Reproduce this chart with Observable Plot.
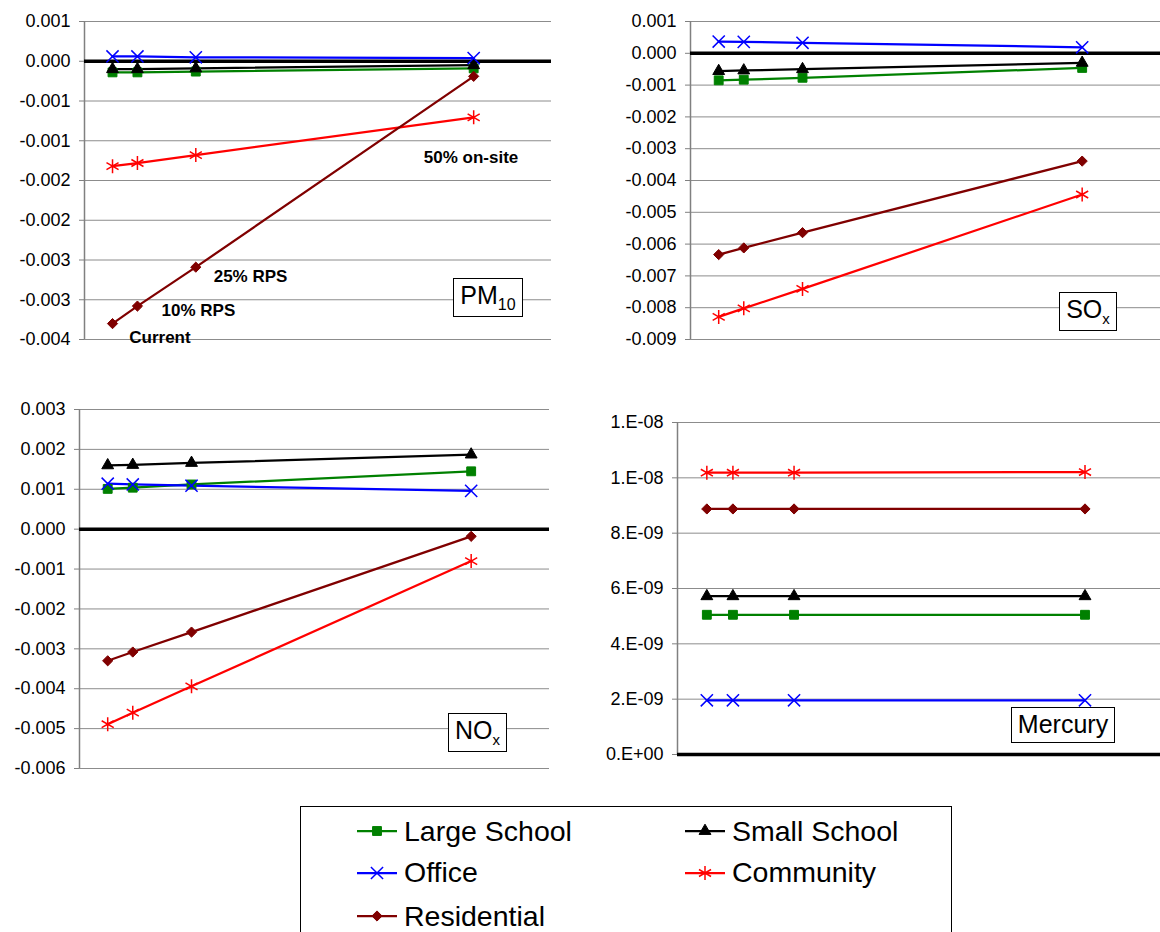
<!DOCTYPE html>
<html>
<head>
<meta charset="utf-8">
<script src="https://cdn.jsdelivr.net/npm/d3@7"></script>
<script src="https://cdn.jsdelivr.net/npm/@observablehq/plot@0.6"></script>
<style>
  body { margin: 0; background: #fff; font-family: "Liberation Sans", Arial, sans-serif; }
  #page { position: relative; width: 1160px; height: 932px; overflow: hidden; background: #fff; }
  .panel { position: absolute; }
  .panel svg { overflow: visible; }
  .tag { position: absolute; box-sizing: border-box; border: 1px solid #000; background: #fff;
         font-size: 25px; line-height: 1; color: #000; display: flex; align-items: center;
         justify-content: center; white-space: nowrap; }
  .tag sub { font-size: 16px; vertical-align: -6px; line-height: 0; }
  #legend { position: absolute; left: 300px; top: 806px; width: 652px; height: 140px;
            box-sizing: border-box; border: 1px solid #000; background: #fff; }
  .item { position: absolute; height: 30px; display: flex; align-items: center;
          font-size: 28.5px; line-height: 1; color: #000; white-space: nowrap; }
  .item svg { margin-right: 7px; }
</style>
</head>
<body>
<div id="page"></div>
<script>
// ---------- data ----------
const scenarios = ["Current", "10% RPS", "25% RPS", "50% on-site"];
const scenarioX = [3.6, 6.8, 14.3, 50];

const seriesNames = ["Large School", "Small School", "Office", "Community", "Residential"];
const seriesColors = ["#008000", "#000000", "#0000ff", "#ff0000", "#800000"];
const seriesSymbols = ["square", "triangle", "times", "asterisk", "diamond2"];

// values per series in seriesNames order, per scenario
const pm10Values = [
  [-0.00014, -0.00014, -0.00013, -0.00009],
  [-0.00010, -0.00010, -0.00009, -0.00005],
  [0.00006, 0.00006, 0.00005, 0.00004],
  [-0.00132, -0.00128, -0.00118, -0.000705],
  [-0.00330, -0.00308, -0.00259, -0.00019]
];
const soxValues = [
  [-0.00085, -0.00083, -0.00077, -0.00046],
  [-0.00056, -0.00054, -0.00050, -0.00030],
  [0.00037, 0.00036, 0.00033, 0.00019],
  [-0.00829, -0.00802, -0.00741, -0.00444],
  [-0.00633, -0.00612, -0.00564, -0.00339]
];
const noxValues = [
  [0.00101, 0.00104, 0.00112, 0.00145],
  [0.00160, 0.00161, 0.00166, 0.00187],
  [0.00114, 0.00112, 0.00109, 0.00096],
  [-0.00489, -0.00460, -0.00394, -0.00080],
  [-0.00330, -0.00308, -0.00258, -0.00018]
];
const mercuryValues = [
  [5.05e-9, 5.05e-9, 5.05e-9, 5.05e-9],
  [5.72e-9, 5.72e-9, 5.72e-9, 5.72e-9],
  [1.96e-9, 1.96e-9, 1.96e-9, 1.96e-9],
  [1.0185e-8, 1.0185e-8, 1.0185e-8, 1.021e-8],
  [8.875e-9, 8.875e-9, 8.875e-9, 8.875e-9]
];

const pm10Ticks = [0.0005, 0, -0.0005, -0.001, -0.0015, -0.002, -0.0025, -0.003, -0.0035];
const pm10TickLabels = ["0.001", "0.000", "-0.001", "-0.001", "-0.002", "-0.002", "-0.003", "-0.003", "-0.004"];
const soxTicks = [0.001, 0, -0.001, -0.002, -0.003, -0.004, -0.005, -0.006, -0.007, -0.008, -0.009];
const soxTickLabels = ["0.001", "0.000", "-0.001", "-0.002", "-0.003", "-0.004", "-0.005", "-0.006", "-0.007", "-0.008", "-0.009"];
const noxTicks = [0.003, 0.002, 0.001, 0, -0.001, -0.002, -0.003, -0.004, -0.005, -0.006];
const noxTickLabels = ["0.003", "0.002", "0.001", "0.000", "-0.001", "-0.002", "-0.003", "-0.004", "-0.005", "-0.006"];
const mercuryTicks = [1.2e-8, 1e-8, 8e-9, 6e-9, 4e-9, 2e-9, 0];
const mercuryTickLabels = ["1.E-08", "1.E-08", "8.E-09", "6.E-09", "4.E-09", "2.E-09", "0.E+00"];

// scenario annotations on the PM10 panel (anchored in data units)
const pm10NoteText = ["Current", "10% RPS", "25% RPS", "50% on-site"];
const pm10NoteX = [5.75, 9.9, 16.6, 43.6];
const pm10NoteY = [-0.00348, -0.00313, -0.00271, -0.00121];

// ---------- drawing ----------
const symbolR = {square: 5, triangle: 4.4, times: 5.6, asterisk: 6.6, diamond2: 4.6};
const strokeSymbols = new Set(["times", "asterisk"]);
const page = document.getElementById("page");

function makePanel({values, ticks, labels, left, top, width, height, mL, mT, mB, xRange, notes, tag}) {
  const rows = [];
  values.forEach((vals, si) => vals.forEach((v, i) =>
    rows.push({series: seriesNames[si], scenario: scenarios[i], x: scenarioX[i], y: v})));
  const fmt = new Map(ticks.map((t, i) => [t, labels[i]]));
  const marks = [
    Plot.ruleY(ticks, {stroke: "#8c8c8c", strokeWidth: 1}),
    Plot.ruleX([0], {stroke: "#808080", strokeWidth: 1.5}),
    Plot.axisY({ticks, tickFormat: d => fmt.get(d), tickSize: 5, tickPadding: 9, fontSize: 18,
                stroke: "#808080", fill: "#000", label: null}),
    Plot.ruleY([0], {stroke: "#000", strokeWidth: 3.5}),
    Plot.line(rows, {x: "x", y: "y", z: "series", stroke: "series", strokeWidth: 2.25})
  ];
  seriesNames.forEach((name, si) => {
    const sym = seriesSymbols[si];
    const isStroke = strokeSymbols.has(sym);
    marks.push(Plot.dot(rows.filter(d => d.series === name), {
      x: "x", y: "y", symbol: sym, r: symbolR[sym],
      fill: isStroke ? "none" : seriesColors[si],
      stroke: seriesColors[si],
      strokeWidth: isStroke ? 1.5 : 1
    }));
  });
  if (notes) {
    marks.push(Plot.text(notes, {x: "x", y: "y", text: "text", textAnchor: "start",
      fontWeight: "bold", fontSize: 17, fill: "#000"}));
  }
  const chart = Plot.plot({
    width, height,
    marginLeft: mL, marginRight: 0, marginTop: mT, marginBottom: mB,
    style: {fontFamily: '"Liberation Sans", Arial, sans-serif', background: "transparent"},
    x: {domain: [0, 60], axis: null, ...(xRange ? {range: xRange} : {})},
    y: {domain: [ticks[ticks.length - 1], ticks[0]], axis: null, label: null},
    color: {domain: seriesNames, range: seriesColors},
    marks
  });
  const wrap = document.createElement("div");
  wrap.className = "panel";
  wrap.style.left = left + "px";
  wrap.style.top = top + "px";
  wrap.appendChild(chart);
  page.appendChild(wrap);

  const t = document.createElement("div");
  t.className = "tag";
  t.style.left = tag.left + "px";
  t.style.top = tag.top + "px";
  t.style.width = tag.w + "px";
  t.style.height = tag.h + "px";
  t.style.paddingBottom = (tag.pb || 0) + "px";
  t.innerHTML = "<span>" + tag.html + "</span>";
  page.appendChild(t);
}

makePanel({
  values: pm10Values, ticks: pm10Ticks, labels: pm10TickLabels,
  left: 0, top: 0, width: 551, height: 360, mL: 84, mT: 21, mB: 21,
  notes: pm10NoteText.map((text, i) => ({text, x: pm10NoteX[i], y: pm10NoteY[i]})),
  tag: {left: 453, top: 278, w: 70, h: 39, pb: 5, html: "PM<sub>10</sub>"}
});
makePanel({
  values: soxValues, ticks: soxTicks, labels: soxTickLabels,
  left: 600, top: 0, width: 560, height: 360, mL: 90, mT: 21, mB: 21,
  tag: {left: 1059, top: 292, w: 58, h: 39, pb: 5, html: "SO<sub style=\"font-size:15px\">x</sub>"}
});
makePanel({
  values: noxValues, ticks: noxTicks, labels: noxTickLabels,
  left: 0, top: 390, width: 549, height: 400, mL: 79, mT: 19, mB: 22,
  tag: {left: 448, top: 713, w: 59, h: 39, pb: 5, html: "NO<sub style=\"font-size:15px\">x</sub>"}
});
makePanel({
  values: mercuryValues, ticks: mercuryTicks, labels: mercuryTickLabels,
  left: 590, top: 390, width: 570, height: 400, mL: 87, mT: 32, mB: 36, xRange: [87, 576],
  tag: {left: 1011, top: 707, w: 104, h: 36, pb: 2, html: "Mercury"}
});

// ---------- legend ----------
const legend = document.createElement("div");
legend.id = "legend";
page.appendChild(legend);
const legendCols = [56, 384];       // swatch left offsets inside the legend box
const legendRows = [24, 65.7, 109]; // row centers inside the legend box
seriesNames.forEach((name, si) => {
  const col = si === 4 ? 0 : si % 2;
  const row = Math.floor(si / 2);
  const item = document.createElement("div");
  item.className = "item";
  item.style.left = legendCols[col] + "px";
  item.style.top = (legendRows[row] - 15) + "px";
  const sym = seriesSymbols[si];
  const symType = {square: d3.symbolSquare, triangle: d3.symbolTriangle, times: d3.symbolTimes,
                   asterisk: d3.symbolAsterisk, diamond2: d3.symbolDiamond2}[sym];
  const size = Math.PI * symbolR[sym] * symbolR[sym];
  const isStroke = strokeSymbols.has(sym);
  const path = d3.symbol(symType, size)();
  item.innerHTML =
    `<svg width="40" height="20" viewBox="0 0 40 20">
       <line x1="0" x2="40" y1="10" y2="10" stroke="${seriesColors[si]}" stroke-width="2.25"/>
       <path transform="translate(20,10)" d="${path}" fill="${isStroke ? "none" : seriesColors[si]}"
             stroke="${seriesColors[si]}" stroke-width="${isStroke ? 1.5 : 1}"/>
     </svg><span>${name}</span>`;
  legend.appendChild(item);
});
</script>
</body>
</html>
